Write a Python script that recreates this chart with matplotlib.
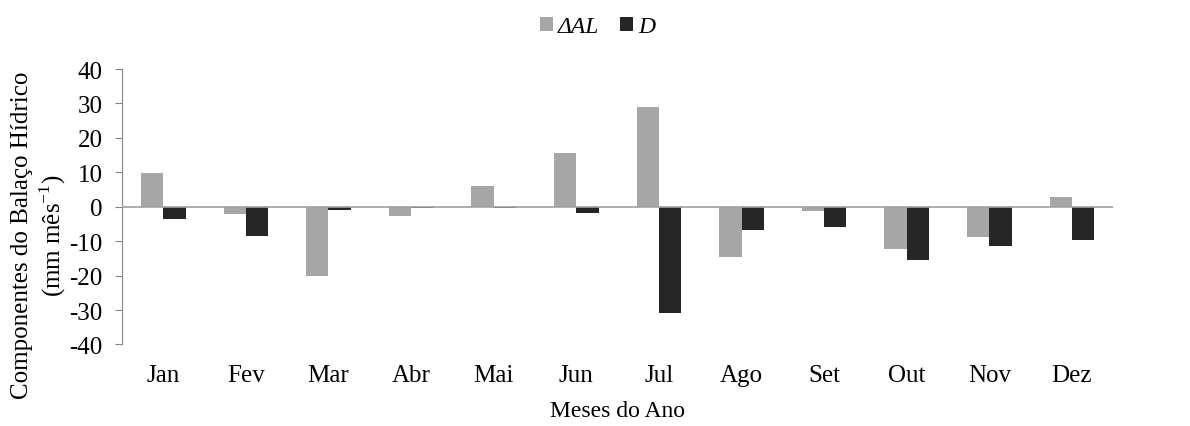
import matplotlib.pyplot as plt
import numpy as np

plt.rcParams['font.family'] = ['Liberation Serif', 'DejaVu Serif']
plt.rcParams['axes.unicode_minus'] = False
plt.rcParams['mathtext.fontset'] = 'custom'
plt.rcParams['mathtext.rm'] = 'Liberation Serif'

# dados
meses = ['Jan', 'Fev', 'Mar', 'Abr', 'Mai', 'Jun', 'Jul', 'Ago', 'Set', 'Out', 'Nov', 'Dez']
delta_al = [9.8, -2.1, -20.0, -2.6, 5.9, 15.6, 29.1, -14.7, -1.2, -12.4, -8.9, 2.8]
d_vals = [-3.7, -8.5, -0.9, -0.5, -0.3, -1.9, -30.8, -6.9, -5.8, -15.5, -11.4, -9.7]

fig = plt.figure(figsize=(11.9, 4.27), dpi=100)
ax = fig.add_axes([0.1025, 0.191, 0.833, 0.645])

x = np.arange(len(meses))
w = 0.27
ax.bar(x - w / 2, delta_al, w, color='#A6A6A6', label='ΔAL')
ax.bar(x + w / 2, d_vals, w, color='#262626', label='D')

ax.axhline(0, color='#A0A0A0', linewidth=1.2, zorder=3)
ax.set_xlim(-0.5, len(meses) - 0.5)
ax.set_ylim(-40, 40)
ax.set_yticks(range(-40, 41, 10))
ax.set_xticks(x)
ax.set_xticklabels(meses)

for s in ['top', 'right', 'bottom']:
    ax.spines[s].set_visible(False)
ax.spines['left'].set_color('#868686')
ax.tick_params(axis='x', length=0, labelsize=18, pad=14)
ax.tick_params(axis='y', length=5, color='#868686', labelsize=18, pad=9)

ax.set_xlabel('Meses do Ano', fontsize=17, labelpad=10)
ax.set_ylabel('Componentes do Balaço Hídrico\n(mm mês$^{-1}$)', fontsize=18, linespacing=1.2)
ax.yaxis.set_label_coords(-0.054, 0.4)

leg = fig.legend(loc='center', bbox_to_anchor=(0.502, 0.935), ncol=2, frameon=False,
                 fontsize=17, handlelength=0.55, handleheight=0.55, handletextpad=0.2,
                 columnspacing=0.9)
for t in leg.get_texts():
    t.set_fontstyle('italic')

fig.savefig('out.png', dpi=100)
